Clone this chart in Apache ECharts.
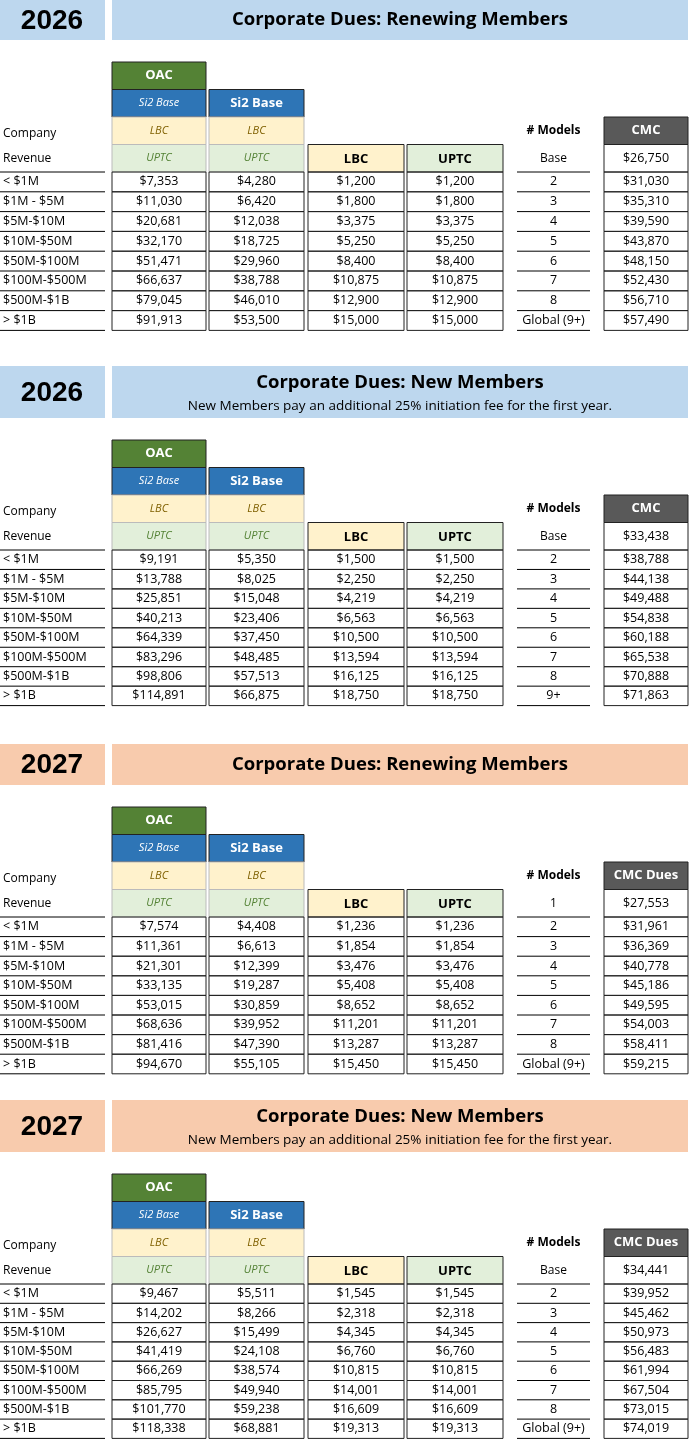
<!DOCTYPE html>
<html>
<head>
<meta charset="utf-8">
<script src="https://cdn.jsdelivr.net/npm/echarts@6/dist/echarts.min.js"></script>
<style>html,body{margin:0;padding:0;background:#fff}</style>
</head>
<body>
<div id="container" style="width:690px;height:1440px"></div>
<script>
// row labels (revenue bands)
var revLabels = ['< $1M', '$1M - $5M', '$5M-$10M', '$10M-$50M', '$50M-$100M', '$100M-$500M', '$500M-$1B', '> $1B'];

// 2026 renewing
var oac26r = [7353, 11030, 20681, 32170, 51471, 66637, 79045, 91913];
var si226r = [4280, 6420, 12038, 18725, 29960, 38788, 46010, 53500];
var lbc26r = [1200, 1800, 3375, 5250, 8400, 10875, 12900, 15000];
var models26r = ['Base', '2', '3', '4', '5', '6', '7', '8', 'Global (9+)'];
var cmc26r = [26750, 31030, 35310, 39590, 43870, 48150, 52430, 56710, 57490];

// 2026 new
var oac26n = [9191, 13788, 25851, 40213, 64339, 83296, 98806, 114891];
var si226n = [5350, 8025, 15048, 23406, 37450, 48485, 57513, 66875];
var lbc26n = [1500, 2250, 4219, 6563, 10500, 13594, 16125, 18750];
var models26n = ['Base', '2', '3', '4', '5', '6', '7', '8', '9+'];
var cmc26n = [33438, 38788, 44138, 49488, 54838, 60188, 65538, 70888, 71863];

// 2027 renewing
var oac27r = [7574, 11361, 21301, 33135, 53015, 68636, 81416, 94670];
var si227r = [4408, 6613, 12399, 19287, 30859, 39952, 47390, 55105];
var lbc27r = [1236, 1854, 3476, 5408, 8652, 11201, 13287, 15450];
var models27r = ['1', '2', '3', '4', '5', '6', '7', '8', 'Global (9+)'];
var cmc27r = [27553, 31961, 36369, 40778, 45186, 49595, 54003, 58411, 59215];

// 2027 new
var oac27n = [9467, 14202, 26627, 41419, 66269, 85795, 101770, 118338];
var si227n = [5511, 8266, 15499, 24108, 38574, 49940, 59238, 68881];
var lbc27n = [1545, 2318, 4345, 6760, 10815, 14001, 16609, 19313];
var models27n = ['Base', '2', '3', '4', '5', '6', '7', '8', 'Global (9+)'];
var cmc27n = [34441, 39952, 45462, 50973, 56483, 61994, 67504, 73015, 74019];

var subNote = 'New Members pay an additional 25% initiation fee for the first year.';
var sections = [
    {top: 0, h: 40, rh: 19.8, year: '2026', title: 'Corporate Dues: Renewing Members', sub: null, bg: '#BDD7EE', oac: oac26r, si2: si226r, lbc: lbc26r, models: models26r, cmc: cmc26r, cmcTitle: 'CMC'},
    {top: 366, h: 52, rh: 19.45, year: '2026', title: 'Corporate Dues: New Members', sub: subNote, bg: '#BDD7EE', oac: oac26n, si2: si226n, lbc: lbc26n, models: models26n, cmc: cmc26n, cmcTitle: 'CMC'},
    {top: 744, h: 41, rh: 19.6, year: '2027', title: 'Corporate Dues: Renewing Members', sub: null, bg: '#F8CBAD', oac: oac27r, si2: si227r, lbc: lbc27r, models: models27r, cmc: cmc27r, cmcTitle: 'CMC Dues'},
    {top: 1100, h: 52, rh: 19.3, year: '2027', title: 'Corporate Dues: New Members', sub: subNote, bg: '#F8CBAD', oac: oac27n, si2: si227n, lbc: lbc27n, models: models27n, cmc: cmc27n, cmcTitle: 'CMC Dues'}
];

var FONT = 'Open Sans';
var money = function (v) { return '$' + v.toLocaleString('en-US'); };
var els = [];

function box(x, y, w, h, fill, stroke) {
    els.push({type: 'rect', shape: {x: x, y: y, width: w, height: h}, style: {fill: fill || 'none', stroke: stroke || null, lineWidth: 1}, silent: true});
}
function txt(x, y, s, opt) {
    opt = opt || {};
    els.push({type: 'text', x: x, y: y, silent: true, style: {
        text: s, fill: opt.color || '#000', font: (opt.italic ? 'italic ' : '') + (opt.bold ? 'bold ' : '') + (opt.size || 12) + 'px "' + (opt.family || FONT) + '"',
        align: opt.align || 'center', verticalAlign: 'middle'}});
}
function line(x1, x2, y) {
    els.push({type: 'line', shape: {x1: x1, y1: y, x2: x2, y2: y}, style: {stroke: '#000', lineWidth: 1}, silent: true});
}

// column x positions
var cA = [112, 94], cB = [209, 95], cC = [308, 96], cD = [407, 96], cM = [517, 73], cK = [604, 84];
var mid = function (c) { return c[0] + c[1] / 2; };

sections.forEach(function (s) {
    // title band
    box(0, s.top, 105, s.h, s.bg);
    box(112, s.top, 576, s.h, s.bg);
    txt(52, s.top + s.h / 2 + 1, s.year, {bold: true, size: 28, family: 'Liberation Sans'});
    if (s.sub) {
        txt(400, s.top + 17, s.title, {bold: true, size: 18.5});
        txt(400, s.top + 40, s.sub, {size: 13.5});
    } else {
        txt(400, s.top + s.h / 2, s.title, {bold: true, size: 18.5});
    }
    var hr = 27.5, y0 = s.top + s.h + 22;
    // OAC
    box(cA[0], y0, cA[1], hr, '#548235', '#222');
    txt(mid(cA), y0 + hr / 2, 'OAC', {bold: true, color: '#fff', size: 13});
    // Si2 row
    var y1 = y0 + hr;
    box(cA[0], y1, cA[1], hr, '#2E75B6', '#222');
    txt(mid(cA), y1 + hr / 2, 'Si2 Base', {italic: true, color: '#fff', size: 11});
    box(cB[0], y1, cB[1], hr, '#2E75B6', '#222');
    txt(mid(cB), y1 + hr / 2, 'Si2 Base', {bold: true, color: '#fff', size: 13});
    // LBC row
    var y2 = y1 + hr;
    [cA, cB].forEach(function (c) {
        box(c[0], y2, c[1], hr, '#FFF2CC', '#bbb');
        txt(mid(c), y2 + hr / 2, 'LBC', {italic: true, color: '#7F6000', size: 11});
    });
    txt(3, y2 + hr / 2 + 3, 'Company', {align: 'left', size: 12});
    txt(mid(cM), y2 + hr / 2, '# Models', {bold: true, size: 12});
    box(cK[0], y2, cK[1], hr, '#595959', '#222');
    txt(mid(cK), y2 + hr / 2, s.cmcTitle, {bold: true, color: '#fff', size: 13});
    // UPTC row
    var y3 = y2 + hr;
    [cA, cB].forEach(function (c) {
        box(c[0], y3, c[1], hr, '#E2EFDA', '#bbb');
        txt(mid(c), y3 + hr / 2, 'UPTC', {italic: true, color: '#548235', size: 11});
    });
    box(cC[0], y3, cC[1], hr, '#FFF2CC', '#222');
    txt(mid(cC), y3 + hr / 2 + 1, 'LBC', {bold: true, size: 13});
    box(cD[0], y3, cD[1], hr, '#E2EFDA', '#222');
    txt(mid(cD), y3 + hr / 2 + 1, 'UPTC', {bold: true, size: 13});
    txt(3, y3 + hr / 2, 'Revenue', {align: 'left', size: 12});
    txt(mid(cM), y3 + hr / 2, s.models[0], {size: 12});
    line(cM[0], cM[0] + cM[1], y3 + hr);
    box(cK[0], y3, cK[1], hr, 'none', '#222');
    txt(mid(cK), y3 + hr / 2, money(s.cmc[0]), {size: 12.5});
    line(0, 105, y3 + hr);
    // data rows
    var rh = s.rh, yd = y3 + hr;
    revLabels.forEach(function (lab, i) {
        var y = yd + i * rh;
        txt(3, y + rh / 2, lab, {align: 'left', size: 12.5});
        line(0, 105, y + rh);
        [[cA, s.oac], [cB, s.si2], [cC, s.lbc], [cD, s.lbc]].forEach(function (p) {
            box(p[0][0], y, p[0][1], rh, 'none', '#222');
            txt(mid(p[0]), y + rh / 2, money(p[1][i]), {size: 12.5});
        });
        txt(mid(cM), y + rh / 2, s.models[i + 1], {size: 12.5});
        line(cM[0], cM[0] + cM[1], y + rh);
        box(cK[0], y, cK[1], rh, 'none', '#222');
        txt(mid(cK), y + rh / 2, money(s.cmc[i + 1]), {size: 12.5});
    });
});

var myChart = echarts.init(document.getElementById('container'), null, {renderer: 'canvas'});
myChart.setOption({animation: false, graphic: {elements: els}});
</script>
</body>
</html>
